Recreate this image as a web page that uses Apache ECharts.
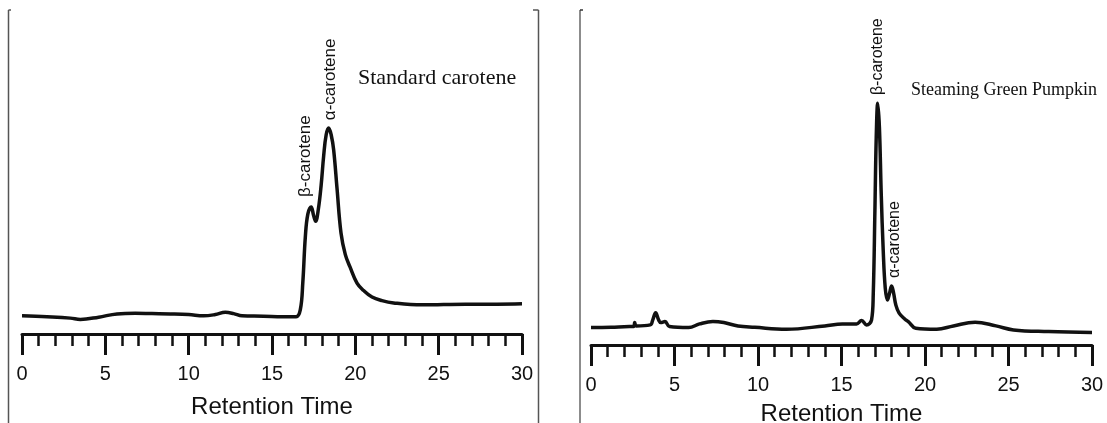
<!DOCTYPE html>
<html>
<head>
<meta charset="utf-8">
<script src="https://cdn.jsdelivr.net/npm/echarts@6/dist/echarts.min.js"></script>
<style>
  html, body { margin: 0; padding: 0; background: #fff; }
  #chart { width: 1107px; height: 423px; }
</style>
</head>
<body>
<div id="chart"></div>
<script>
// retention time (min) and detector signal (relative units, 0-100)
const stdTime = [0, 1.5, 2.9, 3.5, 4.6, 5.7, 6.8, 7.8, 8.9, 10.0, 10.9, 11.6, 12.2, 12.7, 13.2, 14.5, 15.6, 16.45,
  16.7, 16.85, 17.0, 17.15, 17.35, 17.5, 17.62, 17.78, 17.95, 18.1, 18.25, 18.4, 18.55, 18.7, 18.9, 19.14,
  19.4, 19.68, 20.1, 20.5, 21.0, 21.6, 22.3, 24.0, 26.6, 28.5, 30];
const stdSignal = [5.6, 5.3, 4.9, 4.5, 5.2, 6.2, 6.4, 6.3, 6.2, 6.0, 5.6, 6.0, 6.7, 6.3, 5.6, 5.5, 5.3, 5.3,
  7.5, 16.0, 30.0, 37.0, 39.2, 36.5, 34.8, 38.5, 46.0, 55.0, 61.5, 63.6, 61.5, 56.8, 45.0, 31.2,
  24.5, 20.7, 15.7, 13.4, 11.4, 10.3, 9.6, 9.0, 9.2, 9.2, 9.3];

const pumpTime = [0, 1.2, 2.3, 2.55, 2.62, 2.7, 3.55, 3.7, 3.87, 4.05, 4.18, 4.43, 4.7, 5.85, 6.5, 7.3, 7.95,
  8.8, 9.8, 11.7, 14.0, 15.05, 15.9, 16.2, 16.5, 16.8, 16.9, 17.0, 17.08, 17.17, 17.27, 17.38, 17.5, 17.62,
  17.75, 17.88, 18.0, 18.12, 18.25, 18.45, 18.8, 19.0, 19.45, 20.7, 21.7, 23.0, 24.25, 25.3, 27.4, 30];
const pumpSignal = [5.2, 5.3, 5.5, 5.5, 6.7, 5.7, 6.0, 7.5, 9.6, 7.5, 6.7, 7.0, 5.5, 5.2, 6.3, 7.0, 6.7,
  5.7, 5.3, 4.7, 5.7, 6.3, 6.3, 7.3, 6.0, 7.5, 15.0, 40.0, 62.0, 72.2, 65.0, 45.0, 28.0, 17.0,
  13.4, 15.5, 17.6, 15.5, 12.0, 9.5, 7.7, 7.0, 5.0, 4.7, 5.7, 6.8, 5.7, 4.5, 4.0, 3.7];

// peak annotations: [time, signal where the label starts, text]
const stdPeaks = [[17.02, 42.3, 'β-carotene'], [18.5, 66.0, 'α-carotene']];
const pumpPeaks = [[17.17, 74.6, 'β-carotene'], [18.2, 20.0, 'α-carotene']];

const panelTitles = ['Standard carotene', 'Steaming Green Pumpkin'];
const axisTitle = 'Retention Time';

const zip = (xs, ys) => xs.map((x, i) => [x, ys[i]]);

const peakMarks = (peaks, size) => ({
  symbol: 'circle',
  symbolSize: 2,
  silent: true,
  itemStyle: { color: 'rgba(0,0,0,0)' },
  data: peaks.map(p => ({
    coord: [p[0], p[1]],
    label: {
      show: true,
      formatter: p[2],
      rotate: 90,
      position: 'inside',
      align: 'left',
      verticalAlign: 'middle',
      fontFamily: 'Liberation Sans',
      fontSize: size,
      color: '#111'
    }
  }))
});

const xAxisBase = (nameGap, margin) => ({
  type: 'value',
  min: 0,
  max: 30,
  interval: 5,
  name: axisTitle,
  nameLocation: 'middle',
  nameGap: nameGap,
  nameTextStyle: { fontFamily: 'Liberation Sans', fontSize: 24, color: '#111' },
  axisLine: { show: true, lineStyle: { color: '#111', width: 3 } },
  axisTick: { show: true, length: 21, lineStyle: { color: '#111', width: 3 } },
  minorTick: { show: true, splitNumber: 5, length: 12, lineStyle: { color: '#111', width: 2.5 } },
  splitLine: { show: false },
  axisLabel: { margin: margin, fontFamily: 'Liberation Sans', fontSize: 20, color: '#111' }
});

const yAxisBase = { type: 'value', min: 0, max: 100, show: false };

const frameLine = (x1, y1, x2, y2, color) => ({
  type: 'line',
  shape: { x1: x1, y1: y1, x2: x2, y2: y2 },
  style: { stroke: color, lineWidth: 1.5 },
  silent: true
});

const chart = echarts.init(document.getElementById('chart'), null, { renderer: 'canvas' });

chart.setOption({
  backgroundColor: '#fff',
  animation: false,
  title: [
    { text: panelTitles[0], left: 353, top: 62,
      textStyle: { fontFamily: 'Liberation Serif', fontSize: 22, fontWeight: 'normal', color: '#111' } },
    { text: panelTitles[1], left: 906, top: 76,
      textStyle: { fontFamily: 'Liberation Serif', fontSize: 18, fontWeight: 'normal', color: '#111' } }
  ],
  grid: [
    { left: 22, top: 10, width: 500, height: 324, containLabel: false, outerBoundsMode: 'none' },
    { left: 591, top: 10, width: 501, height: 335, containLabel: false, outerBoundsMode: 'none' }
  ],
  xAxis: [
    Object.assign({ gridIndex: 0 }, xAxisBase(61, 30)),
    Object.assign({ gridIndex: 1 }, xAxisBase(57, 30))
  ],
  yAxis: [
    Object.assign({ gridIndex: 0 }, yAxisBase),
    Object.assign({ gridIndex: 1 }, yAxisBase)
  ],
  series: [
    {
      type: 'line', xAxisIndex: 0, yAxisIndex: 0,
      data: zip(stdTime, stdSignal),
      symbol: 'none', smooth: 0.4,
      lineStyle: { color: '#111', width: 3.5 },
      markPoint: peakMarks(stdPeaks, 17)
    },
    {
      type: 'line', xAxisIndex: 1, yAxisIndex: 1,
      data: zip(pumpTime, pumpSignal),
      symbol: 'none', smooth: 0.4,
      lineStyle: { color: '#111', width: 3.5 },
      markPoint: peakMarks(pumpPeaks, 16)
    }
  ],
  graphic: [
    frameLine(8.5, 10, 8.5, 423, '#555'),
    frameLine(8.5, 10, 11, 10, '#555'),
    frameLine(538.5, 10, 538.5, 423, '#555'),
    frameLine(533, 10, 538.5, 10, '#555'),
    frameLine(580, 10, 580, 423, '#666'),
    frameLine(580, 10, 583, 10, '#333')
  ]
});
</script>
</body>
</html>
